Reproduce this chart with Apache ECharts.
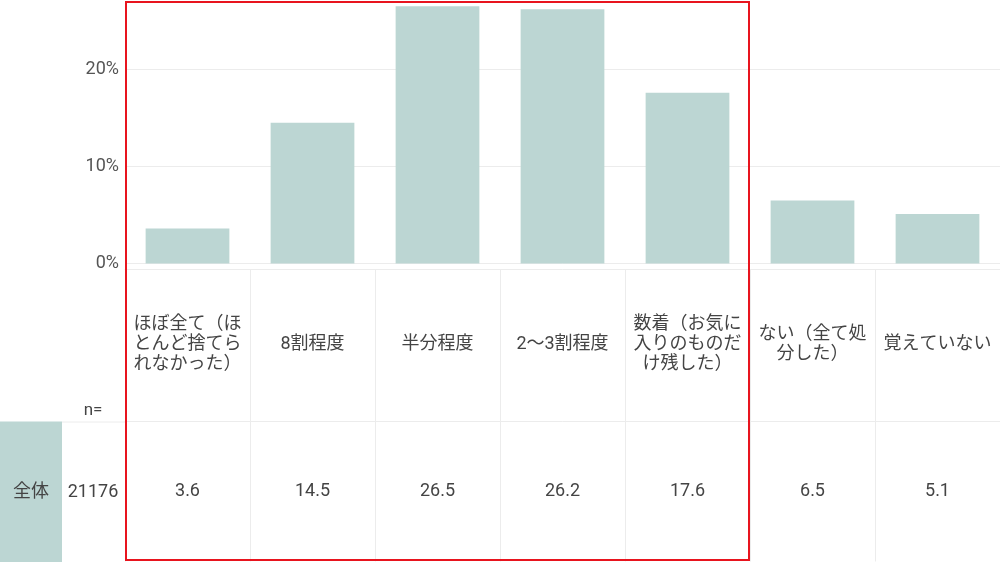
<!DOCTYPE html>
<html>
<head>
<meta charset="utf-8">
<script src="https://cdn.jsdelivr.net/npm/echarts@6/dist/echarts.min.js"></script>
<style>
html,body{margin:0;padding:0;background:#fff;}
#chart{width:1000px;height:562px;}
</style>
</head>
<body>
<div id="chart"></div>
<script>
const categories = ['ほぼ全て（ほとんど捨てられなかった）', '8割程度', '半分程度', '2～3割程度', '数着（お気に入りのものだけ残した）', 'ない（全て処分した）', '覚えていない'];
const values = [3.6, 14.5, 26.5, 26.2, 17.6, 6.5, 5.1];
const rowLabel = '全体';
const sampleSize = 21176;
const yTicks = [0, 10, 20];
const highlightFrom = 0;
const highlightTo = 4;

const FONT = "Roboto, 'Noto Sans CJK JP', sans-serif";
const BAR = '#bcd6d3';
const LINE = '#ececec';
const TEXT = '#444';

const chart = echarts.init(document.getElementById('chart'), null, {renderer: 'canvas'});
const option = {
  animation: false,
  textStyle: {fontFamily: FONT},
  grid: {left: 125, right: 0, top: 1.5, bottom: 298.5, containLabel: false},
  xAxis: [
    {
      type: 'category', data: categories, position: 'bottom', offset: 6,
      axisLine: {show: true, onZero: false, lineStyle: {color: LINE, width: 1}},
      axisTick: {show: true, length: 152, lineStyle: {color: LINE, width: 1}},
      axisLabel: {
        interval: 0, margin: 75, verticalAlign: 'middle', width: 112, overflow: 'break',
        fontSize: 18, lineHeight: 20, color: TEXT, fontFamily: FONT, align: 'center'
      }
    },
    {
      type: 'category', data: values.map(v => v.toFixed(1)), position: 'bottom', offset: 158,
      axisLine: {show: true, onZero: false, lineStyle: {color: LINE, width: 1}},
      axisTick: {show: true, length: 140, lineStyle: {color: LINE, width: 1}},
      axisLabel: {interval: 0, margin: 70, verticalAlign: 'middle', fontSize: 18, color: TEXT, fontFamily: FONT}
    }
  ],
  yAxis: {
    type: 'value', min: 0, max: 27, interval: 10,
    axisLine: {show: false}, axisTick: {show: false},
    axisLabel: {formatter: '{value}%', fontSize: 18, color: '#555', margin: 6, showMaxLabel: false, fontFamily: FONT},
    splitLine: {show: false}
  },
  series: [{
    type: 'bar', data: values, xAxisIndex: 0, barCategoryGap: '33%',
    itemStyle: {color: BAR},
    markLine: {
      silent: true, symbol: 'none', label: {show: false}, z: 0,
      lineStyle: {color: LINE, type: 'solid', width: 1},
      data: yTicks.map(v => ({yAxis: v}))
    }
  }]
};
chart.setOption(option);

// left part of the table and the highlight frame
const x0 = chart.convertToPixel({xAxisIndex: 0}, highlightFrom);
const x1 = chart.convertToPixel({xAxisIndex: 0}, highlightTo);
const half = (chart.convertToPixel({xAxisIndex: 0}, 1) - chart.convertToPixel({xAxisIndex: 0}, 0)) / 2;
const yZero = chart.convertToPixel({yAxisIndex: 0}, 0);
const rowTop = yZero + 158;
chart.setOption({
  graphic: [
    {type: 'rect', shape: {x: 0, y: rowTop, width: 62, height: 562 - rowTop}, style: {fill: BAR}, silent: true},
    {type: 'text', x: 31, y: rowTop + 71, style: {text: rowLabel, fontSize: 18, fill: TEXT, fontFamily: FONT, align: 'center', verticalAlign: 'middle'}},
    {type: 'text', x: 93, y: rowTop + 71, style: {text: String(sampleSize), fontSize: 18, fill: TEXT, fontFamily: FONT, align: 'center', verticalAlign: 'middle'}},
    {type: 'text', x: 93, y: rowTop - 11, style: {text: 'n=', fontSize: 17, fill: TEXT, fontFamily: FONT, align: 'center', verticalAlign: 'middle'}},
    {type: 'line', shape: {x1: 62, y1: rowTop + 0.5, x2: 125, y2: rowTop + 0.5}, style: {stroke: LINE, lineWidth: 1}},
    {type: 'rect', shape: {x: x0 - half + 1, y: 2, width: (x1 + half) - (x0 - half) - 2, height: 558},
      style: {fill: 'none', stroke: '#e8141e', lineWidth: 2}, z: 100}
  ]
});
</script>
</body>
</html>
